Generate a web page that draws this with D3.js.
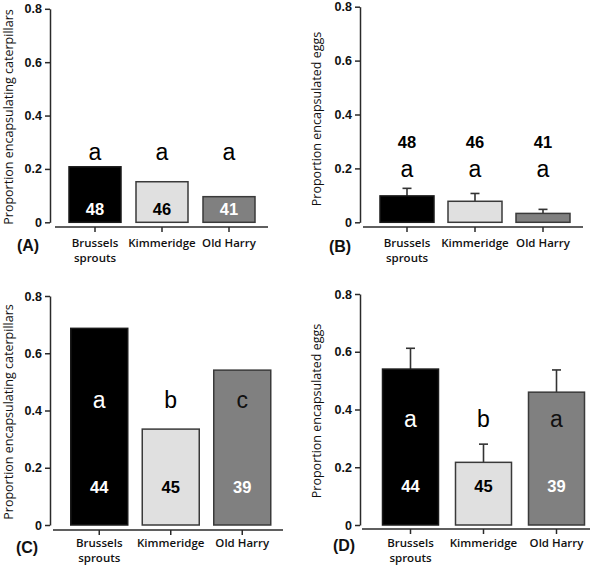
<!DOCTYPE html>
<html>
<head>
<meta charset="utf-8">
<script src="https://cdn.jsdelivr.net/npm/d3@7"></script>
<style>
  html, body { margin: 0; padding: 0; background: #fff; }
  svg { display: block; }
</style>
</head>
<body>
<svg id="chart" width="600" height="568"></svg>
<script>
// ---------------- DATA ----------------
const categories = ["Brussels sprouts", "Kimmeridge", "Old Harry"];
const categoryLines = [["Brussels", "sprouts"], ["Kimmeridge"], ["Old Harry"]];
const yTicks = [0, 0.2, 0.4, 0.6, 0.8];

const valuesA = [0.208, 0.152, 0.096];
const valuesB = [0.098, 0.078, 0.033];
const errorTopB = [0.126, 0.107, 0.048];
const valuesC = [0.687, 0.335, 0.541];
const valuesD = [0.540, 0.217, 0.460];
const errorTopD = [0.612, 0.280, 0.537];

const nA = [48, 46, 41];
const nB = [48, 46, 41];
const nC = [44, 45, 39];
const nD = [44, 45, 39];

const lettersA = ["a", "a", "a"];
const lettersB = ["a", "a", "a"];
const lettersC = ["a", "b", "c"];
const lettersD = ["a", "b", "a"];

const yTitleA = "Proportion encapsulating caterpillars";
const yTitleB = "Proportion encapsulated eggs";
const yTitleC = "Proportion encapsulating caterpillars";
const yTitleD = "Proportion encapsulated eggs";
const panelTags = ["(A)", "(B)", "(C)", "(D)"];

// ---------------- STYLE ----------------
const barFill = ["#000000", "#e0e0e0", "#808080"];
const barStroke = ["#1a1a1a", "#3a3a3a", "#3a3a3a"];
const nColor = ["#ffffff", "#000000", "#ffffff"];
const axisColor = "#2a2a2a";

const svg = d3.select("#chart");

// Panel layouts
const panels = [
  { tag: panelTags[0], values: valuesA, err: null, n: nA, letters: lettersA, title: yTitleA,
    yAxisX: 50, y0: 222.3, y8: 8.8, xRange: [61.5, 262.5], barW: 52, xLine: [55, 268], xLineY: 227,
    letterY: 160, letterColor: ["#000", "#000", "#000"], nY: 215, nColor: nColor,
    titleX: 13, titleY: 117, tagX: 28, tagY: 251, catY: 247 },
  { tag: panelTags[1], values: valuesB, err: errorTopB, n: nB, letters: lettersB, title: yTitleB,
    yAxisX: 360, y0: 222.3, y8: 6.7, xRange: [373, 577], barW: 54, xLine: [363, 583], xLineY: 227,
    letterY: 177, letterColor: ["#000", "#000", "#000"], nY: 148, nColor: ["#000", "#000", "#000"],
    titleX: 321, titleY: 119, tagX: 340, tagY: 252, catY: 247 },
  { tag: panelTags[2], values: valuesC, err: null, n: nC, letters: lettersC, title: yTitleC,
    yAxisX: 50, y0: 525, y8: 296, xRange: [63.5, 278], barW: 57, xLine: [53, 283], xLineY: 530,
    letterY: 408, letterColor: ["#fff", "#000", "#111"], nY: 493, nColor: nColor,
    titleX: 13, titleY: 412, tagX: 27, tagY: 553, catY: 547 },
  { tag: panelTags[3], values: valuesD, err: errorTopD, n: nD, letters: lettersD, title: yTitleD,
    yAxisX: 360, y0: 525, y8: 294, xRange: [374, 593], barW: 56, xLine: [362, 590], xLineY: 529,
    letterY: 427, letterColor: ["#fff", "#000", "#111"], nY: 492, nColor: nColor,
    titleX: 321, titleY: 411, tagX: 344, tagY: 551, catY: 547 }
];

panels.forEach((p, pi) => {
  const g = svg.append("g");
  const y = d3.scaleLinear().domain([0, 0.8]).range([p.y0, p.y8]);
  const x = d3.scaleBand().domain(categories).range(p.xRange).paddingInner(0).paddingOuter(0);
  const cx = c => x(c) + x.bandwidth() / 2;

  // Y axis
  const yAxis = d3.axisLeft(y).tickValues(yTicks).tickSize(5).tickSizeOuter(0)
    .tickFormat(d => d === 0 ? "0" : d.toFixed(1));
  const ya = g.append("g").attr("transform", `translate(${p.yAxisX},0)`).call(yAxis);
  ya.select(".domain").attr("stroke", axisColor).attr("stroke-width", 1.5);
  ya.selectAll(".tick line").attr("stroke", axisColor).attr("stroke-width", 1.5);
  ya.selectAll(".tick text").attr("fill", "#111").attr("x", -8)
    .style("font-family", "Arial, 'Liberation Sans', sans-serif").style("font-weight", "bold").style("font-size", "12.5px");

  // X axis
  const xAxis = d3.axisBottom(x).tickSize(5).tickSizeOuter(0).tickFormat("");
  const xa = g.append("g").attr("transform", `translate(0,${p.xLineY})`).call(xAxis);
  xa.select(".domain").remove();
  xa.selectAll(".tick line").attr("stroke", axisColor).attr("stroke-width", 1.5);
  g.append("line").attr("x1", p.xLine[0]).attr("x2", p.xLine[1])
    .attr("y1", p.xLineY).attr("y2", p.xLineY).attr("stroke", axisColor).attr("stroke-width", 1.5);

  // Category labels
  categories.forEach((c, i) => {
    const t = g.append("text").attr("x", cx(c)).attr("y", p.catY).attr("text-anchor", "middle")
      .style("font-family", "'Open Sans', sans-serif").style("font-weight", "600").style("font-size", "11.5px")
      .attr("fill", "#111");
    categoryLines[i].forEach((line, li) => {
      t.append("tspan").attr("x", cx(c)).attr("dy", li === 0 ? 0 : 14.5).text(line);
    });
  });

  // Error bars (upper only)
  if (p.err) {
    p.err.forEach((e, i) => {
      const c = categories[i];
      g.append("line").attr("x1", cx(c)).attr("x2", cx(c)).attr("y1", y(p.values[i])).attr("y2", y(e))
        .attr("stroke", "#333").attr("stroke-width", 1.6);
      g.append("line").attr("x1", cx(c) - 4.5).attr("x2", cx(c) + 4.5).attr("y1", y(e)).attr("y2", y(e))
        .attr("stroke", "#333").attr("stroke-width", 1.6);
    });
  }

  // Bars
  g.selectAll("rect.bar").data(p.values).join("rect").attr("class", "bar")
    .attr("x", (d, i) => cx(categories[i]) - p.barW / 2)
    .attr("width", p.barW)
    .attr("y", d => y(d))
    .attr("height", d => y(0) - y(d))
    .attr("fill", (d, i) => barFill[i])
    .attr("stroke", (d, i) => barStroke[i])
    .attr("stroke-width", 1.5);

  // Significance letters
  p.letters.forEach((l, i) => {
    g.append("text").attr("x", cx(categories[i])).attr("y", p.letterY).attr("text-anchor", "middle")
      .style("font-family", "Arial, 'Liberation Sans', sans-serif").style("font-size", "23px")
      .attr("fill", p.letterColor[i]).text(l);
  });

  // Sample sizes
  p.n.forEach((n, i) => {
    g.append("text").attr("x", cx(categories[i])).attr("y", p.nY).attr("text-anchor", "middle")
      .style("font-family", "Arial, 'Liberation Sans', sans-serif").style("font-weight", "bold").style("font-size", "16.5px")
      .attr("fill", p.nColor[i]).text(n);
  });

  // Y title
  g.append("text").attr("transform", `translate(${p.titleX},${p.titleY}) rotate(-90)`)
    .attr("text-anchor", "middle")
    .style("font-family", "'Open Sans', sans-serif").style("font-size", "12.5px")
    .attr("fill", "#111").text(p.title);

  // Panel tag
  g.append("text").attr("x", p.tagX).attr("y", p.tagY).attr("text-anchor", "middle")
    .style("font-family", "Arial, 'Liberation Sans', sans-serif").style("font-weight", "bold").style("font-size", "16px")
    .attr("fill", "#111").text(p.tag);
});
</script>
</body>
</html>
